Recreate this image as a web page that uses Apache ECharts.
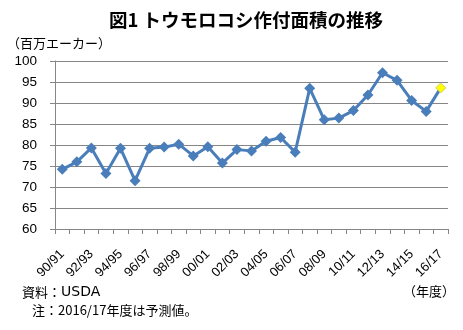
<!DOCTYPE html>
<html>
<head>
<meta charset="utf-8">
<script src="https://cdn.jsdelivr.net/npm/echarts@6/dist/echarts.min.js"></script>
<style>
html,body{margin:0;padding:0;background:#fff;}
#c{width:463px;height:330px;}
</style>
</head>
<body>
<div id="c"></div>
<script>
// Crop years and planted area (million acres); the last year is a projection
const years = ['90/91','91/92','92/93','93/94','94/95','95/96','96/97','97/98','98/99','99/00',
  '00/01','01/02','02/03','03/04','04/05','05/06','06/07','07/08','08/09','09/10',
  '10/11','11/12','12/13','13/14','14/15','15/16','16/17'];
const plantedArea = [74.2, 76.0, 79.3, 73.2, 79.2, 71.5, 79.2, 79.5, 80.2, 77.4,
  79.6, 75.7, 78.9, 78.6, 80.9, 81.8, 78.3, 93.5, 86.0, 86.4,
  88.2, 91.9, 97.2, 95.4, 90.6, 88.0, 93.6];
const projectedIndex = 26;
const yTicks = {min: 60, max: 100, step: 5};

const font = '"Liberation Sans", "Noto Sans CJK JP", sans-serif';
const cjk = '"Noto Sans CJK JP", sans-serif';

const seriesData = plantedArea.map((v, i) => i === projectedIndex
  ? {value: v, symbolSize: 10, itemStyle: {color: '#FFFF00', borderColor: '#D8C860', borderWidth: 1}}
  : v);

const chart = echarts.init(document.getElementById('c'));
chart.setOption({
  animation: false,
  title: {
    text: '図1 トウモロコシ作付面積の推移',
    left: 104, top: 6,
    textStyle: {fontFamily: cjk, fontSize: 18.5, fontWeight: 'bold', color: '#000'}
  },
  grid: {left: 55, right: 15, top: 61, bottom: 101},
  xAxis: {
    type: 'category',
    data: years,
    boundaryGap: true,
    axisLine: {lineStyle: {color: '#868686', width: 1}},
    axisTick: {show: true, interval: 0, length: 5, lineStyle: {color: '#868686'}},
    axisLabel: {interval: 1, rotate: 45, fontFamily: font, fontSize: 13, color: '#000', margin: 23}
  },
  yAxis: {
    type: 'value',
    min: yTicks.min, max: yTicks.max, interval: yTicks.step,
    axisLine: {show: true, lineStyle: {color: '#868686', width: 1}},
    axisTick: {show: true, length: 5, lineStyle: {color: '#868686'}},
    axisLabel: {fontFamily: font, fontSize: 13.5, color: '#000', margin: 18},
    splitLine: {lineStyle: {color: '#868686', width: 1}}
  },
  series: [{
    type: 'line',
    data: seriesData,
    symbol: 'diamond',
    symbolSize: 11,
    showAllSymbol: true,
    lineStyle: {color: '#4A7EBB', width: 3},
    itemStyle: {color: '#4A7EBB'}
  }],
  graphic: [
    {type: 'text', left: 7, top: 37, style: {text: '（百万エーカー）', font: '13px ' + cjk, fill: '#000'}},
    {type: 'text', left: 22, top: 285, style: {
      text: '{c|資料：}{a|USDA}',
      rich: {
        c: {fontFamily: cjk, fontSize: 13, color: '#000'},
        a: {fontFamily: '"DejaVu Sans", sans-serif', fontSize: 14, color: '#000'}
      }
    }},
    {type: 'text', left: 403, top: 285, style: {text: '（年度）', font: '13px ' + cjk, fill: '#000'}},
    {type: 'text', left: 32, top: 304, style: {text: '注：2016/17年度は予測値。', font: '13px ' + cjk, fill: '#000'}}
  ]
});
</script>
</body>
</html>
